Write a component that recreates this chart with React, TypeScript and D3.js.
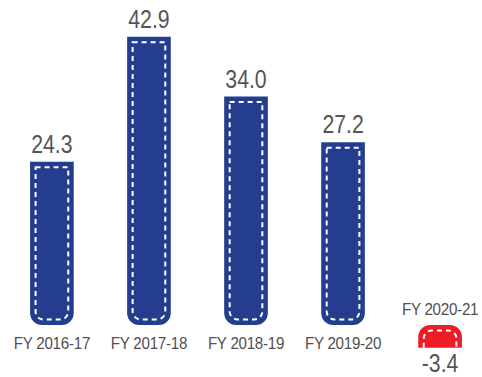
import React from "react";
import * as d3 from "d3";

const categories = ["FY 2016-17", "FY 2017-18", "FY 2018-19", "FY 2019-20", "FY 2020-21"];
const values = [24.3, 42.9, 34.0, 27.2, -3.4];
const valueLabels = ["24.3", "42.9", "34.0", "27.2", "-3.4"];

const W = 482;
const H = 377;

export default function App() {
  const x = d3
    .scaleBand<string>()
    .domain(categories)
    .range([0, 492])
    .paddingInner(0.55)
    .paddingOuter(0.31)
    .align(0.5);
  const y = d3.scaleLinear().domain([0, 42.9]).range([325, 36.7]);
  const y0 = y(0);
  const bw = x.bandwidth();
  const r = 12;
  const d = 5.5;
  const ri = 8;

  const barPath = (x0: number, x1: number, yv: number, positive: boolean) => {
    if (positive) {
      return `M${x0},${yv} H${x1} V${y0 - r} A${r},${r} 0 0 1 ${x1 - r},${y0} H${x0 + r} A${r},${r} 0 0 1 ${x0},${y0 - r} Z`;
    }
    return `M${x0},${yv} V${y0 + r} A${r},${r} 0 0 1 ${x0 + r},${y0} H${x1 - r} A${r},${r} 0 0 1 ${x1},${y0 + r} V${yv} Z`;
  };
  const innerPath = (x0: number, x1: number, yv: number, positive: boolean) => {
    const a = x0 + d;
    const b = x1 - d;
    if (positive) {
      const t = yv + d;
      const bot = y0 - d;
      return `M${a},${t} H${b} V${bot - ri} A${ri},${ri} 0 0 1 ${b - ri},${bot} H${a + ri} A${ri},${ri} 0 0 1 ${a},${bot - ri} Z`;
    }
    const t = y0 + d;
    return `M${a},${yv} V${t + ri} A${ri},${ri} 0 0 1 ${a + ri},${t} H${b - ri} A${ri},${ri} 0 0 1 ${b},${t + ri} V${yv}`;
  };

  return (
    <svg
      width={W}
      height={H}
      style={{ position: "fixed", left: 0, top: 0, background: "#fff" }}
    >
      {categories.map((c, i) => {
        const v = values[i];
        const pos = v >= 0;
        const x0 = x(c)!;
        const x1 = x0 + bw;
        const cx = x0 + bw / 2;
        const yv = y(v);
        const vy = pos ? yv - 9 : yv + 24;
        const ly = pos ? y0 + 24 : y0 - 10;
        return (
          <g key={c}>
            <path d={barPath(x0, x1, yv, pos)} fill={pos ? "#253d8e" : "#ee1c25"} />
            <path
              d={innerPath(x0, x1, yv, pos)}
              fill="none"
              stroke="#fff"
              strokeWidth={2}
              strokeDasharray="5,4"
            />
            <text
              transform={`translate(${cx},${vy}) scale(0.85,1)`}
              textAnchor="middle"
              fill="#555"
              style={{
                fontFamily: "'Liberation Sans', Arial, sans-serif",
                fontSize: 25,
              }}
            >
              {valueLabels[i]}
            </text>
            <text
              transform={`translate(${cx},${ly}) scale(0.92,1)`}
              textAnchor="middle"
              fill="#505050"
              style={{
                fontFamily: "'Liberation Sans', Arial, sans-serif",
                fontSize: 16.5,
                letterSpacing: -0.3,
              }}
            >
              {c}
            </text>
          </g>
        );
      })}
    </svg>
  );
}
